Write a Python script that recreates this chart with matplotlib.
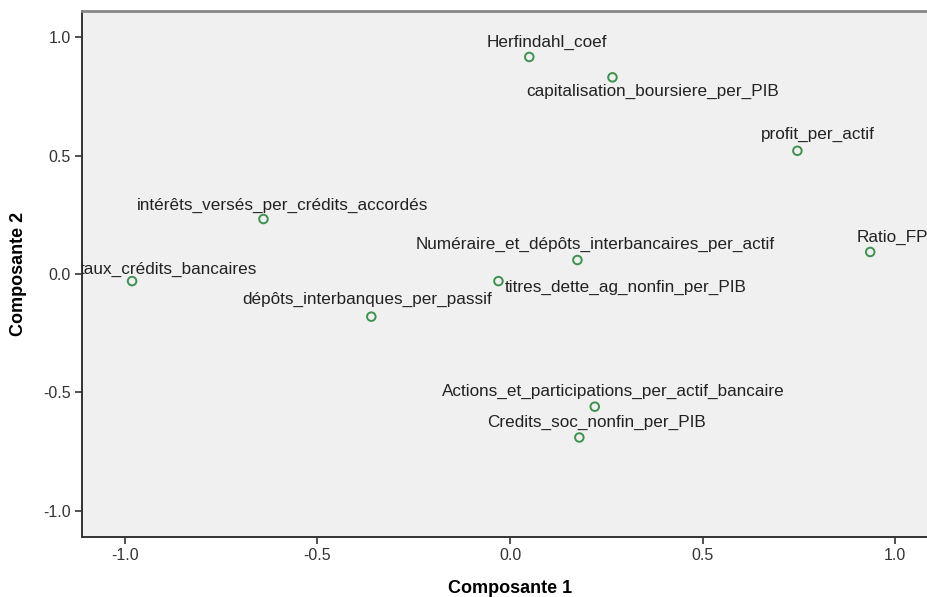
import numpy as np
import matplotlib
matplotlib.use("Agg")
import matplotlib.pyplot as plt

plt.rcParams['font.family'] = ['Liberation Sans', 'DejaVu Sans']

# --- données : coordonnées des variables dans l'espace des composantes ---
variables = [
    "Herfindahl_coef",
    "capitalisation_boursiere_per_PIB",
    "profit_per_actif",
    "intérêts_versés_per_crédits_accordés",
    "taux_crédits_bancaires",
    "dépôts_interbanques_per_passif",
    "Numéraire_et_dépôts_interbancaires_per_actif",
    "titres_dette_ag_nonfin_per_PIB",
    "Ratio_FP",
    "Actions_et_participations_per_actif_bancaire",
    "Credits_soc_nonfin_per_PIB",
]
composante1 = [0.05, 0.266, 0.746, -0.64, -0.981, -0.36, 0.175, -0.03, 0.935, 0.22, 0.18]
composante2 = [0.916, 0.83, 0.52, 0.232, -0.03, -0.18, 0.059, -0.03, 0.093, -0.56, -0.69]

# décalage des étiquettes (pixels) et alignement horizontal
label_offsets = [(18, 15), (40, -14), (20, 16), (19, 14), (-52, 12), (-4, 17),
                 (18, 16), (6, -6), (-14, 15), (19, 15), (17, 15)]
label_ha = ['center', 'center', 'center', 'center', 'left', 'center',
            'center', 'left', 'left', 'center', 'center']

fig = plt.figure(figsize=(9.27, 5.97), dpi=100)
fig.patch.set_facecolor('white')
ax = fig.add_axes([82 / 927, 1 - 537 / 597, (938 - 82) / 927, (537 - 11) / 597])
ax.set_facecolor('#f0f0f0')

ax.scatter(composante1, composante2, s=38, facecolors='none',
           edgecolors='#3f9150', linewidths=1.4, zorder=3)

for nom, x, y, off, ha in zip(variables, composante1, composante2, label_offsets, label_ha):
    ax.annotate(nom, (x, y), xytext=off, textcoords='offset pixels',
                ha=ha, va='center', fontsize=12.3, color='#222222',
                annotation_clip=False, clip_on=True)

ax.set_xlim(-1.111, 1.111)
ax.set_ylim(-1.11, 1.11)
ax.set_xticks([-1.0, -0.5, 0.0, 0.5, 1.0])
ax.set_yticks([-1.0, -0.5, 0.0, 0.5, 1.0])
ax.set_xticklabels(['-1.0', '-0.5', '0.0', '0.5', '1.0'])
ax.set_yticklabels(['-1.0', '-0.5', '0.0', '0.5', '1.0'])
ax.tick_params(direction='out', length=5, width=1.2, color='#333333',
               labelsize=11.5, labelcolor='#333333', pad=3)

for side in ['left', 'bottom']:
    ax.spines[side].set_color('#333333')
    ax.spines[side].set_linewidth(1.4)
ax.spines['top'].set_color('#888888')
ax.spines['top'].set_linewidth(2)
ax.spines['right'].set_visible(False)

ax.set_xlabel('Composante 1', fontsize=13, fontweight='bold')
ax.set_ylabel('Composante 2', fontsize=13, fontweight='bold', labelpad=12)
ax.xaxis.set_label_coords((510 - 82) / (938 - 82), -(580 - 537) / (537 - 11))

fig.savefig('out.png', dpi=100)
